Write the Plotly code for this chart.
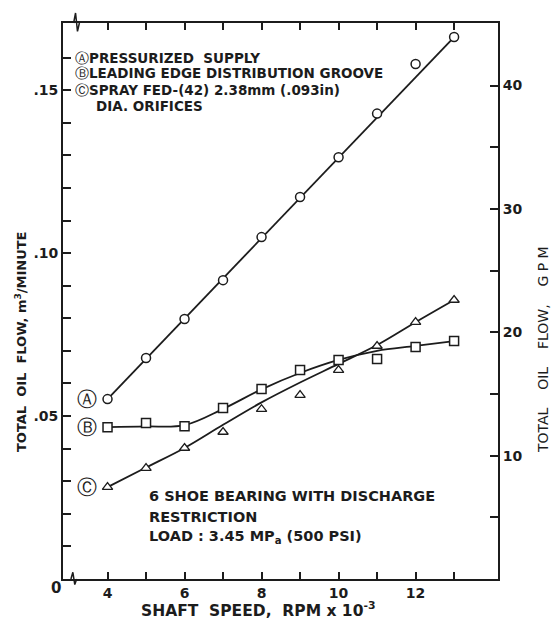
import plotly.graph_objects as go

# ---- data ----
speed = [4, 5, 6, 7, 8, 9, 10, 11, 12, 13]              # RPM x 10^-3
flow_A = [0.0552, 0.0678, 0.0798, 0.0917, 0.1049, 0.1172, 0.1294, 0.1428, 0.1580, 0.1663]
flow_B = [0.0466, 0.0479, 0.0469, 0.0525, 0.0583, 0.0641, 0.0672, 0.0675, 0.0712, 0.0730]
flow_C = [0.0282, 0.0340, 0.0402, 0.0451, 0.0521, 0.0564, 0.0641, 0.0715, 0.0788, 0.0856]

curve_A_speed = [4, 13]
curve_A = [0.0552, 0.1663]
curve_speed = [4, 5, 6, 7, 8, 9, 10, 11, 12, 13]
curve_B = [0.0466, 0.0468, 0.0472, 0.0522, 0.0582, 0.0632, 0.0672, 0.0700, 0.0715, 0.0730]
curve_C = [0.0282, 0.0342, 0.0402, 0.0473, 0.0542, 0.0603, 0.0660, 0.0718, 0.0788, 0.0856]

x_tickvals = [4, 5, 6, 7, 8, 9, 10, 11, 12, 13]
x_ticktext = ["4", "", "6", "", "8", "", "10", "", "12", ""]
y_tickvals = [0.01 * i for i in range(1, 17)]
y_ticktext = ["" for _ in range(16)]
y_ticktext[4] = ".05"
y_ticktext[9] = ".10"
y_ticktext[14] = ".15"
gpm_tickvals = [5, 10, 15, 20, 25, 30, 35, 40]
gpm_ticktext = ["", "10", "", "20", "", "30", "", "40"]

M3_TO_GPM = 264.17
Y_MAX = 0.1706
X_MIN, X_MAX = 2.844, 14.14

INK = "#1c1c1c"
FONT = "DejaVu Sans"

fig = go.Figure()

# fitted curves
fig.add_trace(go.Scatter(x=curve_A_speed, y=curve_A, mode="lines",
                         line=dict(color=INK, width=1.8), showlegend=False, hoverinfo="skip"))
fig.add_trace(go.Scatter(x=curve_speed, y=curve_B, mode="lines",
                         line=dict(color=INK, width=1.8, shape="spline", smoothing=1.0),
                         showlegend=False, hoverinfo="skip"))
fig.add_trace(go.Scatter(x=curve_speed, y=curve_C, mode="lines",
                         line=dict(color=INK, width=1.8, shape="spline", smoothing=1.0),
                         showlegend=False, hoverinfo="skip"))

# measured points
fig.add_trace(go.Scatter(x=speed, y=flow_A, mode="markers", name="A",
                         marker=dict(symbol="circle", size=9, color="white",
                                     line=dict(color=INK, width=1.5)), showlegend=False))
fig.add_trace(go.Scatter(x=speed, y=flow_B, mode="markers", name="B",
                         marker=dict(symbol="square", size=9, color="white",
                                     line=dict(color=INK, width=1.5)), showlegend=False))
fig.add_trace(go.Scatter(x=speed, y=flow_C, mode="markers", name="C",
                         marker=dict(symbol="triangle-up", size=9, color="white",
                                     line=dict(color=INK, width=1.3)), showlegend=False))

# GPM axis companion (invisible trace)
fig.add_trace(go.Scatter(x=[speed[0]], y=[flow_A[0] * M3_TO_GPM], yaxis="y2", mode="markers",
                         marker=dict(opacity=0), showlegend=False, hoverinfo="skip"))

tick_font = dict(family=FONT, size=14, color=INK, weight="bold")

fig.update_layout(
    width=555, height=619,
    margin=dict(l=63, r=57, t=23, b=40),
    paper_bgcolor="white", plot_bgcolor="white",
    font=dict(family=FONT, color=INK, size=13),
    xaxis=dict(range=[X_MIN, X_MAX], tickvals=x_tickvals, ticktext=x_ticktext,
               ticks="inside", ticklen=7, tickwidth=1.5, tickcolor=INK,
               showline=True, linecolor=INK, linewidth=2, mirror="ticks",
               showgrid=False, zeroline=False, tickfont=tick_font),
    yaxis=dict(range=[0, Y_MAX], tickvals=y_tickvals, ticktext=y_ticktext,
               ticks="inside", ticklen=8, tickwidth=1.5, tickcolor=INK,
               showline=True, linecolor=INK, linewidth=2, mirror=False,
               showgrid=False, zeroline=False, tickfont=tick_font),
    yaxis2=dict(range=[0, Y_MAX * M3_TO_GPM], overlaying="y", side="right",
                tickvals=gpm_tickvals, ticktext=gpm_ticktext,
                ticks="inside", ticklen=8, tickwidth=1.5, tickcolor=INK,
                showline=True, linecolor=INK, linewidth=2,
                showgrid=False, zeroline=False, tickfont=tick_font),
)

def pap_x(px):
    return (px - 63) / 435.0

def pap_y(py):
    return (579 - py) / 556.0

def circ(ch, size):
    return "<span style='font-size:%dpx'>%s</span>" % (size, ch)

annos = []
# legend block
legend_lines = [
    (circ("\u24b6", 14) + "<b>PRESSURIZED  SUPPLY</b>", 73, 58),
    (circ("\u24b7", 14) + "<b>LEADING EDGE DISTRIBUTION GROOVE</b>", 73, 73),
    (circ("\u24b8", 14) + "<b>SPRAY FED-(42) 2.38mm (.093in)</b>", 73, 90),
    ("<b>DIA. ORIFICES</b>", 94, 106),
]
for txt, px, py in legend_lines:
    annos.append(dict(text=txt, x=pap_x(px), y=pap_y(py), xref="paper", yref="paper",
                      xanchor="left", yanchor="middle", showarrow=False,
                      font=dict(family=FONT, size=13.5, color=INK)))

# series labels next to first points
for lab, yv in [("\u24b6", flow_A[0]), ("\u24b7", flow_B[0]), ("\u24b8", flow_C[0])]:
    annos.append(dict(text=lab, x=3.47, y=yv, xref="x", yref="y", showarrow=False,
                      xanchor="center", yanchor="middle",
                      font=dict(family=FONT, size=20, color=INK)))

# note block
note_lines = [
    ("<b>6 SHOE BEARING WITH DISCHARGE</b>", 496),
    ("<b>RESTRICTION</b>", 517),
    ("<b>LOAD : 3.45 MP<sub>a</sub> (500 PSI)</b>", 537),
]
for txt, py in note_lines:
    annos.append(dict(text=txt, x=pap_x(147), y=pap_y(py), xref="paper", yref="paper",
                      xanchor="left", yanchor="middle", showarrow=False,
                      font=dict(family=FONT, size=14.5, color=INK)))

# axis titles
annos.append(dict(text="<b>SHAFT  SPEED,  RPM x 10<sup>-3</sup></b>", x=pap_x(258), y=pap_y(609),
                  xref="paper", yref="paper", showarrow=False,
                  xanchor="center", yanchor="middle",
                  font=dict(family=FONT, size=15.5, color=INK)))
annos.append(dict(text="<b>TOTAL  OIL  FLOW, m<sup>3</sup>/MINUTE</b>", x=pap_x(21), y=pap_y(342),
                  xref="paper", yref="paper", showarrow=False, textangle=-90,
                  xanchor="center", yanchor="middle",
                  font=dict(family=FONT, size=13, color=INK)))
annos.append(dict(text="TOTAL    OIL    FLOW,    G P M", x=pap_x(543), y=pap_y(350),
                  xref="paper", yref="paper", showarrow=False, textangle=-90,
                  xanchor="center", yanchor="middle",
                  font=dict(family=FONT, size=14, color=INK)))
annos.append(dict(text="<b>0</b>", x=pap_x(56), y=pap_y(588), xref="paper", yref="paper",
                  xanchor="center", yanchor="middle",
                  showarrow=False, font=dict(family=FONT, size=15, color=INK)))
fig.update_layout(annotations=annos)

# axis-break squiggles
fig.add_shape(type="path", xref="x", yref="paper",
              path="M 3.12,1 L 3.17,1.018 L 3.22,0.985 L 3.27,1",
              line=dict(color=INK, width=1.5))
fig.add_shape(type="path", xref="x", yref="paper",
              path="M 3.05,0 L 3.10,0.012 L 3.15,-0.01 L 3.2,0",
              line=dict(color=INK, width=1.5))

fig.write_html("out.html")
